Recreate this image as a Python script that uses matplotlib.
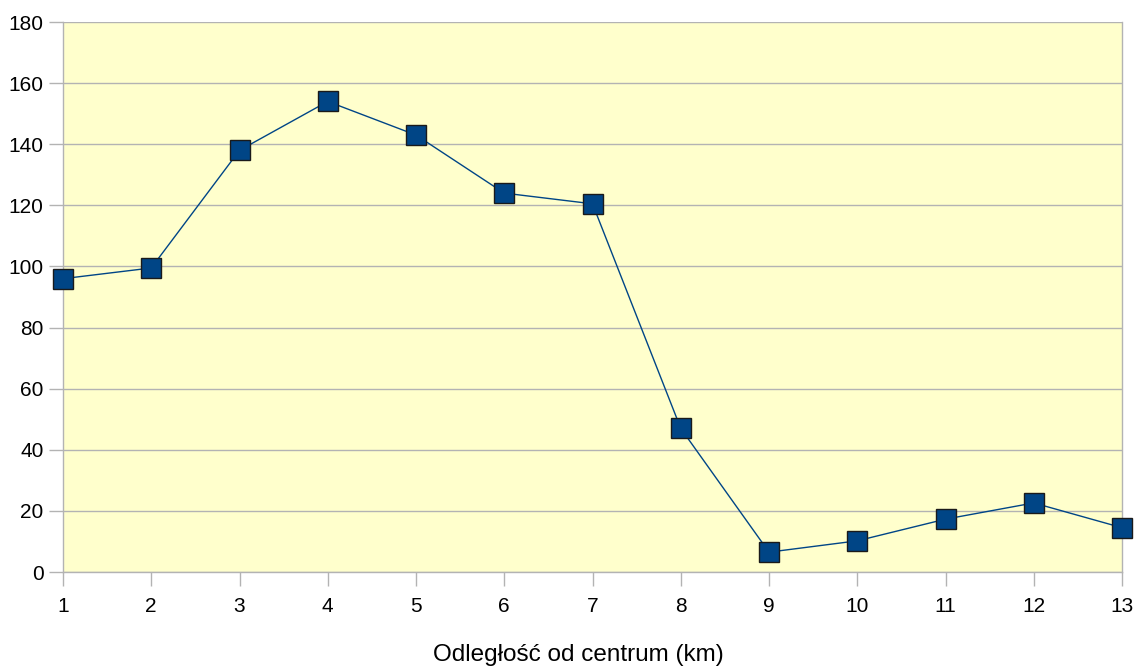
import matplotlib
matplotlib.use("Agg")
import matplotlib.pyplot as plt

x_values = [1, 2, 3, 4, 5, 6, 7, 8, 9, 10, 11, 12, 13]
y_values = [96, 99.5, 138, 154, 143, 124, 120.5, 47, 6.5, 10.2, 17.3, 22.6, 14.5]
y_ticks = [0, 20, 40, 60, 80, 100, 120, 140, 160, 180]
x_label = "Odległość od centrum (km)"

plt.rcParams['font.family'] = ['Liberation Sans', 'DejaVu Sans']

W, H = 1135, 666
fig = plt.figure(figsize=(W / 100, H / 100), dpi=100)
ax = fig.add_axes([63 / W, (H - 572) / H, (1122 - 63) / W, (572 - 22) / H])
ax.set_facecolor('#ffffcc')

ax.plot(x_values, y_values, color='#004586', linewidth=1.0, marker='s',
        markersize=14, markerfacecolor='#004586', markeredgecolor='#1a1a1a',
        markeredgewidth=1.0, zorder=3, clip_on=False)

ax.set_xlim(1, 13)
ax.set_ylim(0, 180)
ax.set_xticks(x_values)
ax.set_yticks(y_ticks)
ax.yaxis.grid(True, color='#b3b3b3', linewidth=1.0)
ax.set_axisbelow(True)
for s in ax.spines.values():
    s.set_color('#b3b3b3')
    s.set_linewidth(1.0)
ax.spines['top'].set_visible(False)
ax.tick_params(axis='both', length=10, width=1.0, color='#b3b3b3',
               labelsize=15, labelcolor='black', direction='out')
ax.tick_params(axis='x', pad=8)
ax.tick_params(axis='y', pad=4)

fig.text(578 / W, 1 - 655 / H, x_label, ha='center', va='center', fontsize=17.5)

fig.savefig('out.png', dpi=100)
